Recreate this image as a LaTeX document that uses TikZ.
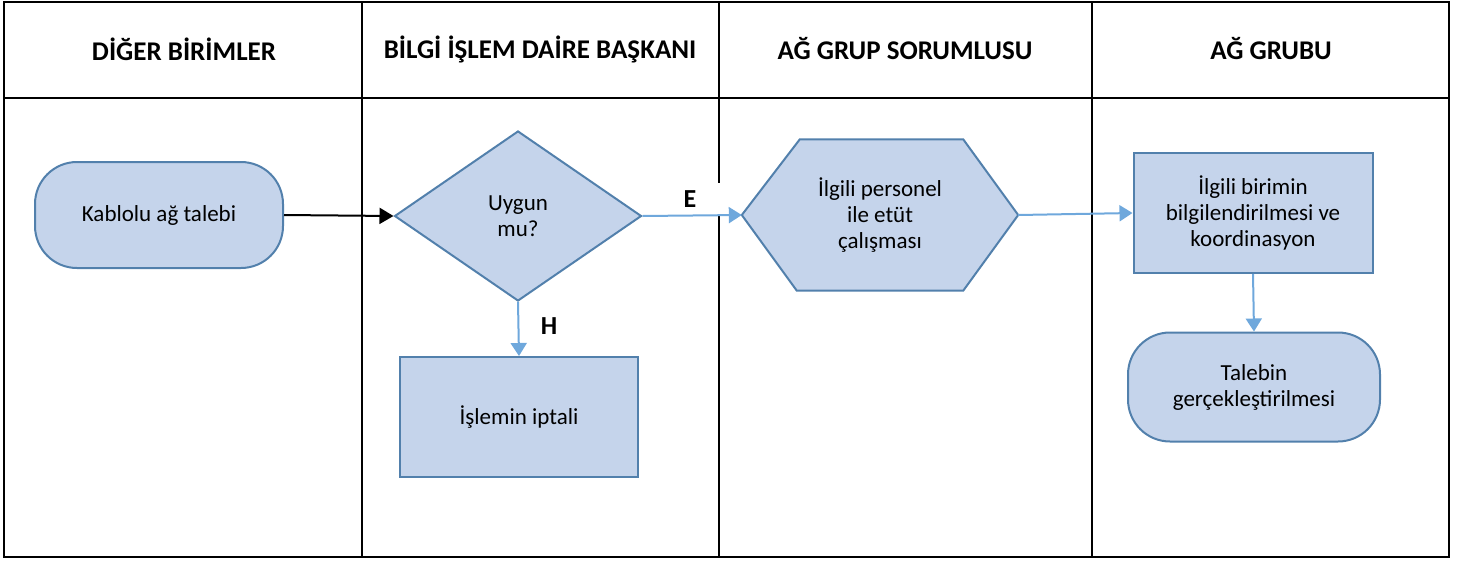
\documentclass[tikz,border=0pt]{standalone}
\usepackage{fontspec}
\setmainfont{Carlito}
\usepackage{tikz}
\usetikzlibrary{arrows.meta,backgrounds}
\usetikzlibrary{calc,positioning}
\usetikzlibrary{shapes.geometric}

\definecolor{boxfill}{RGB}{197,212,235}
\definecolor{boxline}{RGB}{82,128,172}
\definecolor{flowblue}{RGB}{111,168,220}

\begin{document}
\begin{tikzpicture}[x=1pt, y=-1pt,
        lane/.style={draw=black, line width=2.2pt},
        header/.style={font=\fontsize{27}{30}\selectfont\bfseries, text=black},
        shapeline/.style={draw=boxline, fill=boxfill, line width=2pt},
        base/.style={shapeline, align=center,
        text=black, font=\fontsize{23}{26}\selectfont, inner sep=0pt},
        terminal/.style={base, rectangle, rounded corners=42pt},
        decision/.style={base, diamond, aspect=1.45},
        process/.style={base, rectangle},
        preparation/.style={align=center, text=black, font=\fontsize{23}{26}\selectfont,
        inner sep=0pt, rectangle},
        answer/.style={font=\fontsize{26}{28}\selectfont\bfseries, text=black},
        flow/.style={draw=flowblue, line width=2pt, -{Triangle[length=13pt, width=16pt]}},
        blackflow/.style={draw=black, line width=2pt, -{Triangle[length=14pt, width=16pt]}}]
    \useasboundingbox (0,0) rectangle (1466,563);

    % swimlanes
    \draw[lane, line width=2.8pt] (4,2) rectangle (1449,557);
    \draw[lane] (4,98) -- (1449,98);
    \foreach \x in {362,719,1092}
        \draw[lane] (\x,2) -- (\x,557);

    \node[header] (h1) at (184,49) {DİĞER BİRİMLER};
    \node[header] (h2) at (540,49) {BİLGİ İŞLEM DAİRE BAŞKANI};
    \node[header] (h3) at (905,49) {AĞ GRUP SORUMLUSU};
    \node[header] (h4) at (1271,49) {AĞ GRUBU};

    % flow chart
    \node[terminal, minimum width=248pt, minimum height=106pt] (talep) at (159,215) {Kablolu ağ talebi};
    \node[decision, minimum width=247pt, minimum height=170pt] (uygun) at (518,216) {Uygun\\mu?};
    \node[process, minimum width=238pt, minimum height=120pt] (iptal) at (519,417) {İşlemin iptali};
    \node[preparation, minimum width=276pt, minimum height=151pt] (etut) at (880,215) {İlgili personel\\ile etüt\\çalışması};
    \node[process, minimum width=239pt, minimum height=120pt] (bilgi) at (1253,213) {İlgili birimin\\bilgilendirilmesi ve\\koordinasyon};
    \node[terminal, minimum width=252pt, minimum height=109pt] (gercek) at (1254,387) {Talebin\\gerçekleştirilmesi};

    \begin{scope}[on background layer]
        \draw[shapeline] (etut.west) -- ($(etut.north west)+(58,0)$) -- ($(etut.north east)+(-55,0)$)
            -- (etut.east) -- ($(etut.south east)+(-55,0)$) -- ($(etut.south west)+(55,0)$) -- cycle;
    \end{scope}

    \node[answer, fill=white, minimum width=64pt, minimum height=32pt] (evet) at (690,199) {E};
    \node[answer] (hayir) at (549,326) {H};

    \draw[blackflow] (talep.east) -- (uygun.west);
    \draw[flow] (uygun.east) -- (etut.west);
    \draw[flow] (uygun.south) -- (iptal.north);
    \draw[flow] (etut.east) -- (bilgi.west);
    \draw[flow] (bilgi.south) -- (gercek.north);
\end{tikzpicture}
\end{document}
